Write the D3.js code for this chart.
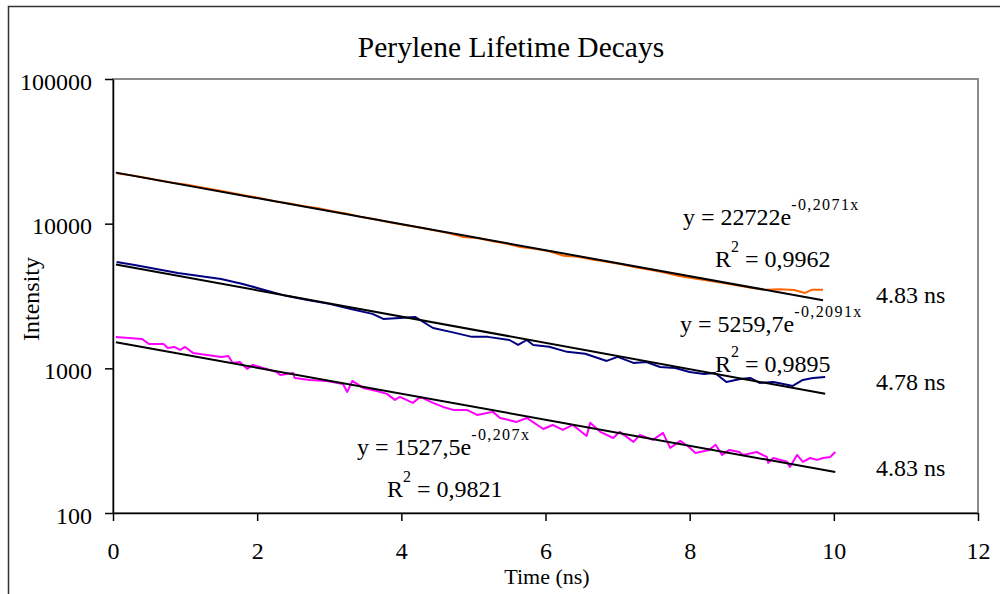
<!DOCTYPE html>
<html><head><meta charset="utf-8">
<script src="https://cdn.jsdelivr.net/npm/d3@7"></script>
<style>
body{margin:0;background:#fff}
svg{display:block}
text{font-family:"Liberation Serif","Times New Roman",serif;fill:#000}
</style>
</head><body>
<svg id="c" width="1000" height="594"></svg>
<script>
// ---- data ----
const xTicks = [0, 2, 4, 6, 8, 10, 12];
const yTicks = [100, 1000, 10000, 100000];

const orangeTime = [0.05,0.25,0.45,0.65,0.85,1.05,1.25,1.45,1.65,1.85,2.05,2.25,2.45,2.65,2.85,3.05,3.25,3.45,3.65,3.85,4.05,4.25,4.45,4.65,4.85,5.05,5.25,5.45,5.65,5.85,6.05,6.25,6.45,6.65,6.85,7.05,7.25,7.45,7.65,7.85,8.05,8.25,8.45,8.65,8.85,9.05,9.25,9.45,9.6,9.7,9.85];
const orangeIntensity = [22300,21600,20800,19900,19100,18500,17700,17000,16300,15600,15000,14300,13800,13200,12800,12200,11700,11100,10700,10200,9800,9400,9000,8600,8100,7950,7600,7300,6900,6700,6450,6000,5900,5650,5450,5250,5000,4800,4600,4350,4200,4050,3900,3750,3600,3500,3520,3480,3320,3500,3500];

const blueTime = [0.05,0.3,0.6,0.9,1.2,1.5,1.8,2.1,2.4,2.7,3.0,3.3,3.6,3.75,3.98,4.19,4.44,4.7,4.98,5.2,5.5,5.62,5.74,5.83,6.05,6.3,6.55,6.85,7.0,7.22,7.4,7.59,7.8,8.0,8.2,8.35,8.51,8.7,8.84,8.97,9.16,9.3,9.43,9.57,9.71,9.88];
const blueIntensity = [5440,5180,4860,4560,4350,4150,3830,3480,3170,2970,2790,2570,2380,2195,2230,2266,1900,1780,1650,1650,1570,1450,1570,1450,1410,1300,1260,1125,1200,1090,1107,1022,1006,944,915,929,805,845,858,793,805,780,756,831,858,872];

const magentaTime = [0.04,0.4,0.5,0.7,0.76,0.85,0.93,1.0,1.11,1.5,1.6,1.66,1.76,1.86,1.94,2.27,2.32,2.5,2.52,2.73,2.97,3.19,3.25,3.32,3.47,3.66,3.8,3.91,3.98,4.16,4.26,4.44,4.58,4.72,4.91,5.05,5.27,5.37,5.6,5.74,5.97,6.1,6.24,6.38,6.57,6.62,6.76,6.94,7.03,7.22,7.31,7.49,7.63,7.73,7.87,7.99,8.08,8.27,8.36,8.45,8.55,8.69,8.74,8.93,9.07,9.09,9.16,9.35,9.39,9.49,9.57,9.67,9.77,9.85,9.95,10.02];
const magentaIntensity = [1648,1597,1474,1474,1384,1406,1341,1406,1278,1199,1218,1090,1107,991,1056,944,900,929,858,831,818,780,687,818,732,698,666,605,634,577,634,577,541,516,516,476,500,454,426,454,381,406,375,406,341,420,364,330,364,310,347,320,358,282,315,286,260,273,296,252,273,264,252,264,244,222,240,226,208,252,226,240,233,240,244,264];

// exponential trendlines (from the displayed equations)
const fitA = [22722, 5259.7, 1527.5];
const fitK = [0.2071, 0.2091, 0.207];
const fitRange = [[0.04, 9.85], [0.04, 9.88], [0.04, 10.02]];
const fitEq = ["y = 22722e", "y = 5259,7e", "y = 1527,5e"];
const fitExp = ["-0,2071x", "-0,2091x", "-0,207x"];
const fitR2 = ["0,9962", "0,9895", "0,9821"];
const lifetimes = ["4.83 ns", "4.78 ns", "4.83 ns"];
const seriesColors = ["#FF6600", "#000080", "#FF00FF"];

// ---- chart ----
const svg = d3.select("#c");
const x = d3.scaleLinear().domain([0, 12]).range([113, 978]);
const y = d3.scaleLog().domain([100, 100000]).range([513, 79]);

// outer frame
svg.append("rect").attr("x", 8.5).attr("y", 6.5).attr("width", 1000).attr("height", 600)
  .attr("fill", "#fff").attr("stroke", "#333").attr("stroke-width", 1.5);

// plot border (top/right gray)
svg.append("rect").attr("x", 113).attr("y", 79).attr("width", 978 - 113).attr("height", 513 - 79)
  .attr("fill", "none").attr("stroke", "#8c8c8c").attr("stroke-width", 2);

// title
svg.append("text").attr("x", 511).attr("y", 57).attr("text-anchor", "middle")
  .style("font-size", "29.5px").text("Perylene Lifetime Decays");

// axes
const yAxis = d3.axisLeft(y).tickValues(yTicks).tickSize(8).tickSizeOuter(0)
  .tickPadding(13).tickFormat(d3.format("d"));
const gy = svg.append("g").attr("transform", "translate(113,0)").call(yAxis);
gy.selectAll("text").style("font-size", "24px").attr("dy", "0.42em")
  .style("font-family", "'Liberation Serif',serif");
gy.selectAll("line,path").attr("stroke", "#000").attr("stroke-width", 1.5);

const xAxis = d3.axisBottom(x).tickValues(xTicks).tickSize(8).tickSizeOuter(0)
  .tickPadding(21).tickFormat(d3.format("d"));
const gx = svg.append("g").attr("transform", "translate(0,513)").call(xAxis);
gx.selectAll("text").style("font-size", "24px").style("font-family", "'Liberation Serif',serif");
gx.selectAll("line,path").attr("stroke", "#000").attr("stroke-width", 1.5);

// axis titles
svg.append("text").attr("x", 547).attr("y", 584).attr("text-anchor", "middle")
  .style("font-size", "22px").text("Time (ns)");
svg.append("text").attr("transform", "translate(39,299) rotate(-90)").attr("text-anchor", "middle")
  .style("font-size", "24px").text("Intensity");

// data lines
const line = d3.line().x(d => x(d[0])).y(d => y(d[1]));
const series = [
  [orangeTime, orangeIntensity],
  [blueTime, blueIntensity],
  [magentaTime, magentaIntensity]
];
series.forEach((s, i) => {
  const pts = s[0].map((t, j) => [t, s[1][j]]);
  svg.append("path").datum(pts).attr("d", line)
    .attr("fill", "none").attr("stroke", seriesColors[i]).attr("stroke-width", 2)
    .attr("stroke-linejoin", "round");
});

// fit lines
fitA.forEach((A, i) => {
  const pts = fitRange[i].map(t => [t, A * Math.exp(-fitK[i] * t)]);
  svg.append("path").datum(pts).attr("d", line)
    .attr("fill", "none").attr("stroke", "#000").attr("stroke-width", 2);
});

// equation labels
const eqPos = [[683, 225, 715, 267], [680, 332, 715, 372], [357, 455, 387, 497]];
eqPos.forEach((p, i) => {
  const t = svg.append("text").attr("x", p[0]).attr("y", p[1]).style("font-size", "24px");
  t.append("tspan").text(fitEq[i]);
  t.append("tspan").attr("dy", -15).style("font-size", "16px").style("letter-spacing", "1.4px").text(fitExp[i]);
  const r = svg.append("text").attr("x", p[2]).attr("y", p[3]).style("font-size", "24px");
  r.append("tspan").text("R");
  r.append("tspan").attr("dy", -15).style("font-size", "16px").text("2");
  r.append("tspan").attr("dy", 15).text(" = " + fitR2[i]);
});

// lifetime labels
const ltY = [303, 390, 476];
lifetimes.forEach((l, i) => {
  svg.append("text").attr("x", 876).attr("y", ltY[i]).style("font-size", "24px").text(l);
});
</script>
</body></html>
